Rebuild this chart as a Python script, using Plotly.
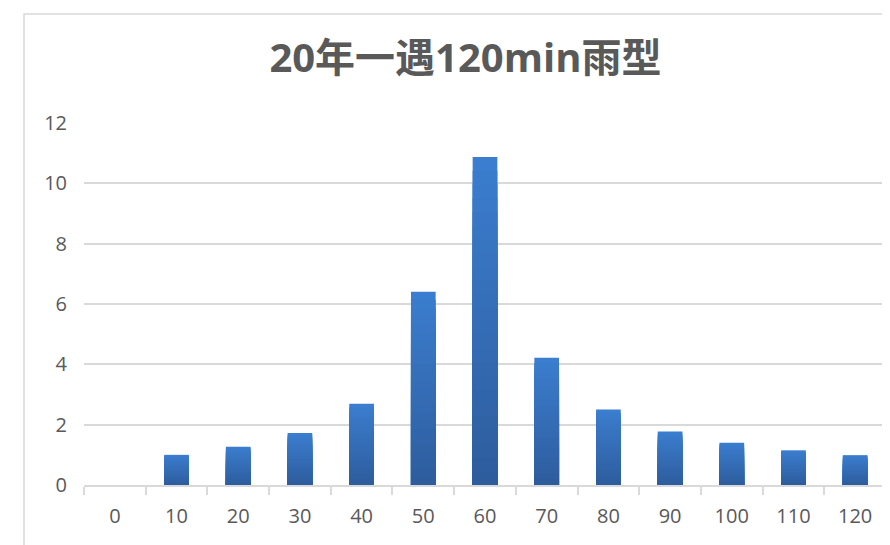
"""Bar chart of the 20-year, 120 min design storm pattern."""

import plotly.graph_objects as go

categories = ["0", "10", "20", "30", "40", "50", "60", "70", "80", "90", "100", "110", "120"]
rain_values = [0, 1.0, 1.27, 1.72, 2.69, 6.41, 10.87, 4.22, 2.50, 1.77, 1.40, 1.15, 0.99]
y_ticks = [0, 2, 4, 6, 8, 10, 12]

GREY = "#595959"
LINE = "#d9d9d9"
TOP_RGB = (59, 125, 206)
BOTTOM_RGB = (46, 93, 158)
N_STEPS = 24

fig = go.Figure()

# fake a vertical gradient: overlay ever shorter, darker copies of each bar
for i in range(N_STEPS):
    t = i / (N_STEPS - 1)
    rgb = tuple(round(a + (b - a) * t) for a, b in zip(TOP_RGB, BOTTOM_RGB))
    fig.add_trace(
        go.Bar(
            x=categories,
            y=[v * (N_STEPS - i) / N_STEPS for v in rain_values],
            width=0.4,
            marker=dict(color="rgb(%d,%d,%d)" % rgb, line=dict(width=0)),
            showlegend=False,
            hoverinfo="skip",
        )
    )

fig.update_layout(
    width=890,
    height=545,
    margin=dict(l=76, r=12, t=115, b=68),
    paper_bgcolor="white",
    plot_bgcolor="white",
    barmode="overlay",
    font=dict(family="Open Sans, Noto Sans CJK SC", color=GREY, size=20),
    title=dict(
        text="<b>20年一遇120min雨型</b>",
        font=dict(family="Open Sans, Noto Sans CJK SC", size=40, color=GREY),
        xref="container",
        x=0.514,
        xanchor="center",
        yref="container",
        y=0.908,
        yanchor="middle",
    ),
    xaxis=dict(
        type="category",
        tickson="boundaries",
        ticks="outside",
        ticklen=8,
        tickcolor=LINE,
        tickwidth=1.5,
        showline=True,
        linecolor=LINE,
        linewidth=1.5,
        showgrid=False,
        ticklabelstandoff=12,
        tickfont=dict(size=20),
    ),
    yaxis=dict(
        range=[0, 12],
        tickvals=y_ticks,
        gridcolor=LINE,
        gridwidth=1.5,
        zeroline=False,
        showline=False,
        ticklabelstandoff=16,
        tickfont=dict(size=20),
    ),
    shapes=[
        dict(
            type="rect",
            xref="paper",
            yref="paper",
            x0=-0.0748,
            x1=1.2,
            y0=-0.5,
            y1=1.301,
            line=dict(color=LINE, width=1.5),
            layer="below",
        )
    ],
)

fig.write_html("out.html")
